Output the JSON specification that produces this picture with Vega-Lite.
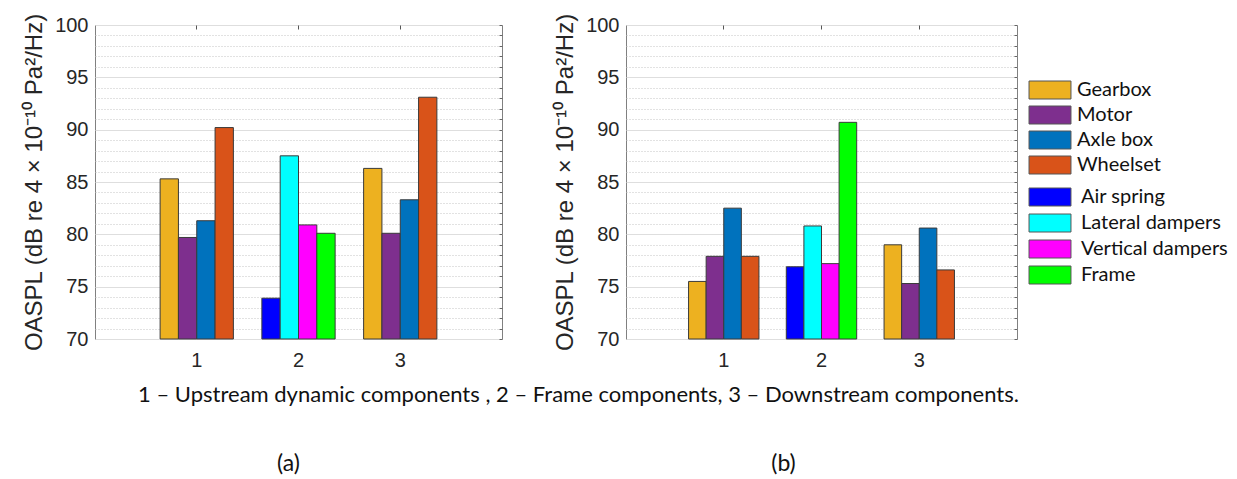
{
  "$schema": "https://vega.github.io/schema/vega-lite/v6.json",
  "background": "white",
  "padding": {"left": 22, "top": 12, "right": 0, "bottom": 0},
  "bounds": "flush",
  "spacing": 124,
  "config": {
    "view": {"stroke": "#808080", "strokeWidth": 1},
    "axisY": {
      "labelOverlap": false,
      "ticks": false,
      "domain": false,
      "labelPadding": 7,
      "labelFont": "Liberation Sans",
      "labelFontSize": 20,
      "labelColor": "#262626",
      "titleFont": "Liberation Sans",
      "titleFontSize": 24,
      "titleFontWeight": "normal",
      "titleColor": "#262626",
      "titlePadding": 8
    },
    "axisX": {
      "labelAngle": 0,
      "ticks": false,
      "domain": false,
      "grid": false,
      "labelFont": "Liberation Sans",
      "labelFontSize": 20,
      "labelColor": "#262626",
      "labelPadding": 11
    },
    "legend": {
      "title": null,
      "orient": "none",
      "symbolType": "M-2.33,-1H2.33V1H-2.33Z",
      "symbolSize": 324,
      "symbolStrokeColor": "#555555",
      "symbolStrokeWidth": 1,
      "symbolOpacity": 1,
      "labelFont": "Lato",
      "labelFontSize": 20,
      "labelColor": "#111111",
      "rowPadding": 4
    }
  },
  "datasets": {
    "oaspl": [
      {"panel": "a", "group": 1, "component": "Gearbox", "oaspl": 85.3},
      {"panel": "a", "group": 1, "component": "Motor", "oaspl": 79.7},
      {"panel": "a", "group": 1, "component": "Axle box", "oaspl": 81.3},
      {"panel": "a", "group": 1, "component": "Wheelset", "oaspl": 90.2},
      {"panel": "a", "group": 2, "component": "Air spring", "oaspl": 73.9},
      {"panel": "a", "group": 2, "component": "Lateral dampers", "oaspl": 87.5},
      {"panel": "a", "group": 2, "component": "Vertical dampers", "oaspl": 80.9},
      {"panel": "a", "group": 2, "component": "Frame", "oaspl": 80.1},
      {"panel": "a", "group": 3, "component": "Gearbox", "oaspl": 86.3},
      {"panel": "a", "group": 3, "component": "Motor", "oaspl": 80.1},
      {"panel": "a", "group": 3, "component": "Axle box", "oaspl": 83.3},
      {"panel": "a", "group": 3, "component": "Wheelset", "oaspl": 93.1},
      {"panel": "b", "group": 1, "component": "Gearbox", "oaspl": 75.5},
      {"panel": "b", "group": 1, "component": "Motor", "oaspl": 77.9},
      {"panel": "b", "group": 1, "component": "Axle box", "oaspl": 82.5},
      {"panel": "b", "group": 1, "component": "Wheelset", "oaspl": 77.9},
      {"panel": "b", "group": 2, "component": "Air spring", "oaspl": 76.9},
      {"panel": "b", "group": 2, "component": "Lateral dampers", "oaspl": 80.8},
      {"panel": "b", "group": 2, "component": "Vertical dampers", "oaspl": 77.2},
      {"panel": "b", "group": 2, "component": "Frame", "oaspl": 90.7},
      {"panel": "b", "group": 3, "component": "Gearbox", "oaspl": 79.0},
      {"panel": "b", "group": 3, "component": "Motor", "oaspl": 75.3},
      {"panel": "b", "group": 3, "component": "Axle box", "oaspl": 80.6},
      {"panel": "b", "group": 3, "component": "Wheelset", "oaspl": 76.6}
    ]
  },
  "hconcat": [
    {
      "width": 407,
      "height": 314,
      "data": {"name": "oaspl"},
      "transform": [{"filter": "datum.panel === 'a'"}],
      "title": {"text": "(a)", "orient": "bottom", "offset": 48, "dx": -10, "font": "Lato", "fontSize": 23, "fontWeight": "normal", "color": "#111111"},
      "encoding": {
        "x": {
          "field": "group", "type": "ordinal",
          "scale": {"domain": [1, 2, 3], "paddingInner": 0.28, "paddingOuter": 0.64},
          "axis": {
            "title": "1 – Upstream dynamic components , 2 – Frame components, 3 – Downstream components.",
            "titleFont": "Lato", "titleFontSize": 22, "titleFontWeight": "normal", "titleColor": "#111111",
            "titleX": 483, "titleY": 55, "titleBaseline": "middle", "titleAlign": "center"
          }
        },
        "y": {
          "field": "oaspl", "type": "quantitative",
          "scale": {"domain": [70, 100], "zero": false, "nice": false},
          "axis": {
            "title": "OASPL (dB re 4 × 10⁻¹⁰ Pa²/Hz)",
            "values": [70, 71, 72, 73, 74, 75, 76, 77, 78, 79, 80, 81, 82, 83, 84, 85, 86, 87, 88, 89, 90, 91, 92, 93, 94, 95, 96, 97, 98, 99, 100],
            "labelExpr": "datum.value % 5 === 0 ? datum.label : ''",
            "grid": true,
            "gridDash": {"condition": {"test": "datum.value % 5 === 0", "value": []}, "value": [1, 2]},
            "gridColor": {"condition": {"test": "datum.value % 5 === 0", "value": "#dedede"}, "value": "#c4c4c4"}
          }
        },
        "y2": {"datum": 70}
      },
      "layer": [
        {
          "transform": [{"filter": "datum.group !== 2"}],
          "mark": {"type": "bar", "stroke": "#3a3a3a", "strokeWidth": 1},
          "encoding": {
            "xOffset": {"field": "component", "type": "nominal", "scale": {"domain": ["Gearbox", "Motor", "Axle box", "Wheelset"], "paddingInner": 0, "paddingOuter": 0}},
            "color": {
              "field": "component", "type": "nominal",
              "scale": {"domain": ["Gearbox", "Motor", "Axle box", "Wheelset"], "range": ["#EDB120", "#7E2F8E", "#0072BD", "#D95319"]},
              "legend": {"legendX": 945, "legendY": 55, "labelOffset": 17, "rowPadding": 3}
            }
          }
        },
        {
          "transform": [{"filter": "datum.group === 2"}],
          "mark": {"type": "bar", "stroke": "#3a3a3a", "strokeWidth": 1},
          "encoding": {
            "x": {
              "field": "group", "type": "ordinal",
              "axis": {"orient": "top", "labels": false, "ticks": true, "tickSize": -4, "tickColor": "#555555", "tickWidth": 1, "title": null}
            },
            "y": {
              "field": "oaspl", "type": "quantitative",
              "axis": {
                "orient": "right", "labels": false, "ticks": true, "tickSize": -3, "tickColor": "#666666", "grid": false, "title": null,
                "values": [70, 71, 72, 73, 74, 75, 76, 77, 78, 79, 80, 81, 82, 83, 84, 85, 86, 87, 88, 89, 90, 91, 92, 93, 94, 95, 96, 97, 98, 99, 100]
              }
            },
            "xOffset": {"field": "component", "type": "nominal", "scale": {"domain": ["Air spring", "Lateral dampers", "Vertical dampers", "Frame"], "paddingInner": 0, "paddingOuter": 0}},
            "fill": {
              "field": "component", "type": "nominal",
              "scale": {"domain": ["Air spring", "Lateral dampers", "Vertical dampers", "Frame"], "range": ["#0000FF", "#00FFFF", "#FF00FF", "#00FF00"]},
              "legend": {"legendX": 945, "legendY": 162, "labelOffset": 21}
            }
          }
        }
      ],
      "resolve": {"scale": {"xOffset": "independent"}, "axis": {"x": "independent", "y": "independent"}}
    },
    {
      "width": 391,
      "height": 314,
      "data": {"name": "oaspl"},
      "transform": [{"filter": "datum.panel === 'b'"}],
      "title": {"text": "(b)", "orient": "bottom", "offset": 83, "dx": -38, "font": "Lato", "fontSize": 23, "fontWeight": "normal", "color": "#111111"},
      "encoding": {
        "x": {
          "field": "group", "type": "ordinal",
          "scale": {"domain": [1, 2, 3], "paddingInner": 0.28, "paddingOuter": 0.64},
          "axis": {"title": null}
        },
        "y": {
          "field": "oaspl", "type": "quantitative",
          "scale": {"domain": [70, 100], "zero": false, "nice": false},
          "axis": {
            "title": "OASPL (dB re 4 × 10⁻¹⁰ Pa²/Hz)",
            "values": [70, 71, 72, 73, 74, 75, 76, 77, 78, 79, 80, 81, 82, 83, 84, 85, 86, 87, 88, 89, 90, 91, 92, 93, 94, 95, 96, 97, 98, 99, 100],
            "labelExpr": "datum.value % 5 === 0 ? datum.label : ''",
            "grid": true,
            "gridDash": {"condition": {"test": "datum.value % 5 === 0", "value": []}, "value": [1, 2]},
            "gridColor": {"condition": {"test": "datum.value % 5 === 0", "value": "#dedede"}, "value": "#c4c4c4"}
          }
        },
        "y2": {"datum": 70}
      },
      "layer": [
        {
          "transform": [{"filter": "datum.group !== 2"}],
          "mark": {"type": "bar", "stroke": "#3a3a3a", "strokeWidth": 1},
          "encoding": {
            "xOffset": {"field": "component", "type": "nominal", "scale": {"domain": ["Gearbox", "Motor", "Axle box", "Wheelset"], "paddingInner": 0, "paddingOuter": 0}},
            "color": {
              "field": "component", "type": "nominal",
              "scale": {"domain": ["Gearbox", "Motor", "Axle box", "Wheelset"], "range": ["#EDB120", "#7E2F8E", "#0072BD", "#D95319"]},
              "legend": {"legendX": 945, "legendY": 55, "labelOffset": 17, "rowPadding": 3}
            }
          }
        },
        {
          "transform": [{"filter": "datum.group === 2"}],
          "mark": {"type": "bar", "stroke": "#3a3a3a", "strokeWidth": 1},
          "encoding": {
            "x": {
              "field": "group", "type": "ordinal",
              "axis": {"orient": "top", "labels": false, "ticks": true, "tickSize": -4, "tickColor": "#555555", "tickWidth": 1, "title": null}
            },
            "y": {
              "field": "oaspl", "type": "quantitative",
              "axis": {
                "orient": "right", "labels": false, "ticks": true, "tickSize": -3, "tickColor": "#666666", "grid": false, "title": null,
                "values": [70, 71, 72, 73, 74, 75, 76, 77, 78, 79, 80, 81, 82, 83, 84, 85, 86, 87, 88, 89, 90, 91, 92, 93, 94, 95, 96, 97, 98, 99, 100]
              }
            },
            "xOffset": {"field": "component", "type": "nominal", "scale": {"domain": ["Air spring", "Lateral dampers", "Vertical dampers", "Frame"], "paddingInner": 0, "paddingOuter": 0}},
            "fill": {
              "field": "component", "type": "nominal",
              "scale": {"domain": ["Air spring", "Lateral dampers", "Vertical dampers", "Frame"], "range": ["#0000FF", "#00FFFF", "#FF00FF", "#00FF00"]},
              "legend": {"legendX": 945, "legendY": 162, "labelOffset": 21}
            }
          }
        }
      ],
      "resolve": {"scale": {"xOffset": "independent"}, "axis": {"x": "independent", "y": "independent"}}
    }
  ],
  "resolve": {"scale": {"color": "shared", "fill": "shared"}}
}
